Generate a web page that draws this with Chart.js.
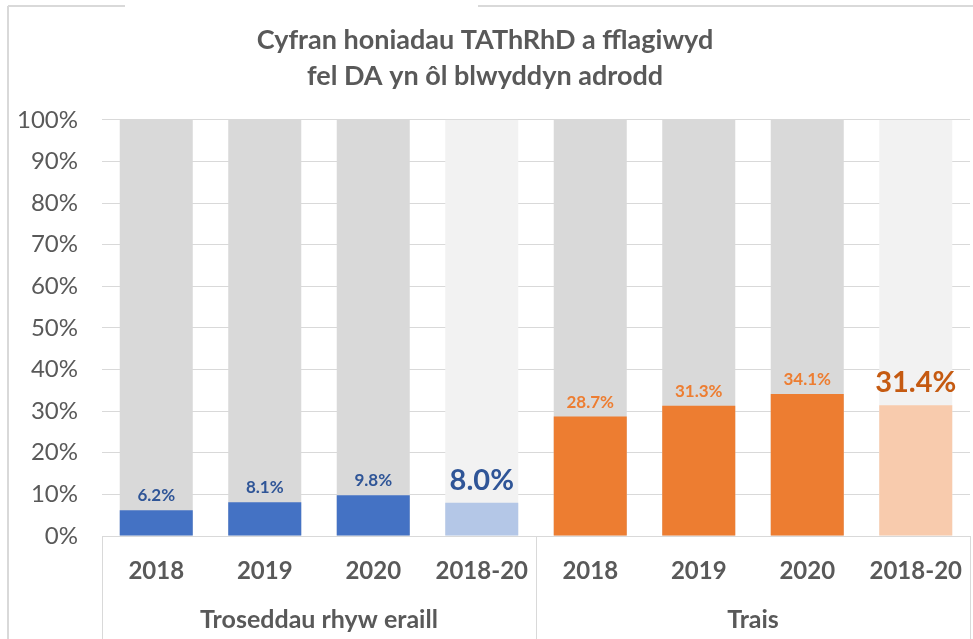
<!DOCTYPE html>
<html>
<head>
<meta charset="utf-8">
<script src="https://cdn.jsdelivr.net/npm/chart.js@4"></script>
<style>
  body { margin: 0; background: #fff; }
</style>
</head>
<body>
<canvas id="chart" width="973" height="639"></canvas>
<script>
// Data
const years = ["2018", "2019", "2020", "2018-20", "2018", "2019", "2020", "2018-20"];
const groups = ["Troseddau rhyw eraill", "Trais"];
const flagged = [6.2, 8.1, 9.8, 8.0, 28.7, 31.3, 34.1, 31.4];
const totals = [100, 100, 100, 100, 100, 100, 100, 100];
const yTicks = [0, 10, 20, 30, 40, 50, 60, 70, 80, 90, 100];

const barColors = ["#4472C4", "#4472C4", "#4472C4", "#B4C7E7", "#ED7D31", "#ED7D31", "#ED7D31", "#F8CBAD"];
const backColors = ["#D9D9D9", "#D9D9D9", "#D9D9D9", "#F2F2F2", "#D9D9D9", "#D9D9D9", "#D9D9D9", "#F2F2F2"];
const labelColors = ["#2F5597", "#2F5597", "#2F5597", "#2F5597", "#ED7D31", "#ED7D31", "#ED7D31", "#C55A11"];
const labelSizes = [17, 17, 17, 29, 17, 17, 17, 29];

const FONT = "Lato, 'Open Sans', sans-serif";
const GREY = "#595959";

// value labels above the coloured segment
const valueLabels = {
    id: "valueLabels",
    afterDatasetsDraw(chart) {
        const ctx = chart.ctx;
        const meta = chart.getDatasetMeta(0);
        ctx.save();
        ctx.textAlign = "center";
        ctx.textBaseline = "alphabetic";
        meta.data.forEach((bar, i) => {
            const big = labelSizes[i] > 20;
            ctx.font = "bold " + labelSizes[i] + "px " + FONT;
            ctx.fillStyle = labelColors[i];
            ctx.fillText(flagged[i].toFixed(1) + "%", bar.x, bar.y - (big ? 13 : 9));
        });
        ctx.restore();
    }
};

// group labels, separators and the frame lines
const groupAxis = {
    id: "groupAxis",
    beforeDraw(chart) {
        const ctx = chart.ctx;
        ctx.save();
        ctx.strokeStyle = "#D9D9D9";
        ctx.lineWidth = 2;
        ctx.beginPath();
        ctx.moveTo(8, 6); ctx.lineTo(125, 6);
        ctx.moveTo(478, 6); ctx.lineTo(973, 6);
        ctx.moveTo(8, 6); ctx.lineTo(8, 639);
        ctx.stroke();
        ctx.restore();
    },
    afterDraw(chart) {
        const ctx = chart.ctx;
        const x = chart.scales.x;
        const area = chart.chartArea;
        const half = (x.getPixelForValue(1) - x.getPixelForValue(0)) / 2;
        const edges = [x.getPixelForValue(0) - half, x.getPixelForValue(3) + half, x.getPixelForValue(7) + half];
        ctx.save();
        ctx.strokeStyle = "#D9D9D9";
        ctx.lineWidth = 1;
        ctx.beginPath();
        edges.forEach(e => {
            ctx.moveTo(Math.round(e) + 0.5, area.bottom);
            ctx.lineTo(Math.round(e) + 0.5, chart.height);
        });
        ctx.stroke();
        ctx.fillStyle = GREY;
        ctx.font = "bold 25px " + FONT;
        ctx.textAlign = "center";
        ctx.textBaseline = "middle";
        groups.forEach((g, i) => {
            ctx.fillText(g, (edges[i] + edges[i + 1]) / 2, 620);
        });
        ctx.restore();
    }
};

new Chart(document.getElementById("chart"), {
    type: "bar",
    data: {
        labels: years,
        datasets: [{
            label: "Flagged DA",
            data: flagged,
            backgroundColor: barColors,
            barPercentage: 0.673,
            categoryPercentage: 1
        }, {
            label: "Total",
            data: totals,
            backgroundColor: backColors,
            barPercentage: 0.673,
            categoryPercentage: 1
        }]
    },
    options: {
        responsive: false,
        devicePixelRatio: 1,
        animation: false,
        layout: { padding: { left: 0, right: 3, top: 0, bottom: 0 } },
        plugins: {
            legend: { display: false },
            tooltip: { enabled: false },
            title: {
                display: true,
                text: ["Cyfran honiadau TAThRhD a fflagiwyd", "fel DA yn ôl blwyddyn adrodd"],
                color: GREY,
                font: { family: FONT, size: 27, weight: "bold", lineHeight: 1.33 },
                padding: { top: 22, bottom: 26 }
            }
        },
        scales: {
            x: {
                stacked: true,
                grid: { display: false },
                border: { display: true, color: "#D9D9D9" },
                ticks: {
                    color: GREY,
                    padding: 13,
                    font: { family: FONT, size: 24, weight: "bold" }
                },
                afterFit(scale) {
                    scale.height = 103;
                    scale.paddingLeft = 0;
                    scale.paddingRight = 0;
                }
            },
            y: {
                stacked: false,
                min: 0,
                max: 100,
                afterBuildTicks(scale) { scale.ticks = yTicks.map(v => ({ value: v })); },
                grid: { color: "#D9D9D9", drawTicks: false },
                border: { display: false },
                ticks: {
                    color: GREY,
                    padding: 24,
                    font: { family: FONT, size: 24 },
                    callback: v => v + "%"
                },
                afterFit(scale) { scale.width = 102; }
            }
        }
    },
    plugins: [valueLabels, groupAxis]
});
</script>
</body>
</html>
